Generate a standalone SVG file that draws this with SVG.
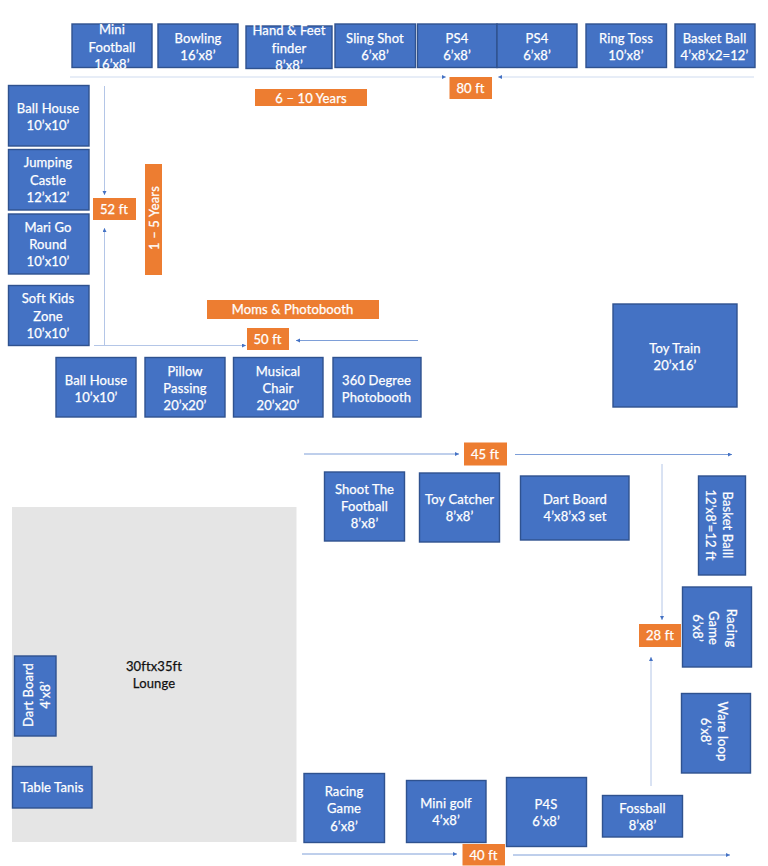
<svg xmlns="http://www.w3.org/2000/svg" width="768" height="866" viewBox="0 0 768 866">
<style>
text{font-family:"Lato","Open Sans","Liberation Sans",sans-serif;font-size:13px;text-anchor:middle;fill:#fff;stroke:#fff;stroke-width:.25;letter-spacing:.12px}
.n rect{fill:#4472C4;stroke:#2F528F;stroke-width:1.4}
.o rect{fill:#ED7D31}
.c line{stroke:#7E9FD8;stroke-width:1;marker-end:url(#a)}
.c line.p{stroke:#DFE7F5;stroke-width:1.3}
.c line.m{stroke:#B4C6E7}
text.d{fill:#111;stroke:#111}
</style>
<defs><marker id="a" markerUnits="userSpaceOnUse" markerWidth="5" markerHeight="5" refX="4" refY="2" orient="auto"><path d="M0 0L4 2L0 4Z" fill="#4472C4"/></marker></defs>
<rect width="768" height="866" fill="#fff"/>
<g id="lounge"><rect x="12" y="507" width="284.500" height="335" fill="#E5E5E5"/><text class="d" x="154" y="670.500">30ftx35ft</text><text class="d" x="154" y="688">Lounge</text></g>
<g id="connectors" class="c">
<line class="p" x1="70" y1="77" x2="446" y2="77"/>
<line class="p" x1="754" y1="77" x2="498" y2="77"/>
<line class="m" x1="104.500" y1="86" x2="104.500" y2="195"/>
<line class="m" x1="104.500" y1="345" x2="104.500" y2="228"/>
<line class="m" x1="94" y1="345.500" x2="246" y2="345.500"/>
<line x1="418" y1="340.500" x2="296" y2="340.500"/>
<line x1="304" y1="454" x2="459" y2="454"/>
<line x1="515" y1="454.500" x2="732" y2="454.500"/>
<line class="m" x1="662" y1="464" x2="662" y2="620"/>
<line class="m" x1="651" y1="786" x2="651" y2="657"/>
<line x1="302" y1="854" x2="457" y2="854"/>
<line x1="513" y1="855" x2="730" y2="855"/>
</g>
<g class="n">
<g id="mini-football"><rect x="72" y="24" width="80" height="43.500"/><text x="112" y="34">Mini</text><text x="112" y="51.500">Football</text><text x="112" y="68.500">16’x8’</text></g>
<g id="bowling"><rect x="158" y="24" width="80" height="43.500"/><text x="198" y="42.500">Bowling</text><text x="198" y="60">16’x8’</text></g>
<g id="hand-feet"><rect x="246" y="26" width="86" height="42.500"/><text x="289" y="35">Hand &amp; Feet</text><text x="289" y="52.500">finder</text><text x="289" y="70">8’x8’</text></g>
<g id="sling-shot"><rect x="335" y="24" width="80.500" height="43.500"/><text x="375" y="42.500">Sling Shot</text><text x="375" y="60">6’x8’</text></g>
<g id="ps4-1"><rect x="417.500" y="24" width="79.500" height="43.500"/><text x="457" y="42.500">PS4</text><text x="457" y="60">6’x8’</text></g>
<g id="ps4-2"><rect x="497" y="24" width="80" height="43.500"/><text x="537" y="42.500">PS4</text><text x="537" y="60">6’x8’</text></g>
<g id="ring-toss"><rect x="586" y="24" width="80.500" height="43.500"/><text x="626" y="42.500">Ring Toss</text><text x="626" y="60">10’x8’</text></g>
<g id="basket-ball-top"><rect x="675" y="24" width="80" height="43.500"/><text x="714.500" y="42.500">Basket Ball</text><text x="714.500" y="60">4’x8’x2=12’</text></g>
<g id="ball-house-1"><rect x="8.500" y="85.500" width="80.500" height="60.500"/><text x="48" y="112.500">Ball House</text><text x="48" y="130">10’x10’</text></g>
<g id="jumping-castle"><rect x="8.500" y="149.500" width="80.500" height="60.500"/><text x="48" y="167">Jumping</text><text x="48" y="185">Castle</text><text x="48" y="202">12’x12’</text></g>
<g id="mari-go-round"><rect x="8.500" y="214" width="80.500" height="60"/><text x="48" y="232">Mari Go</text><text x="48" y="249">Round</text><text x="48" y="266">10’x10’</text></g>
<g id="soft-kids"><rect x="8.500" y="285.500" width="80.500" height="60"/><text x="48" y="303">Soft Kids</text><text x="48" y="321">Zone</text><text x="48" y="338">10’x10’</text></g>
<g id="ball-house-2"><rect x="56" y="357.500" width="80" height="59.500"/><text x="96" y="384.500">Ball House</text><text x="96" y="401.500">10’x10’</text></g>
<g id="pillow-passing"><rect x="145" y="357.500" width="80" height="59.500"/><text x="185" y="375.500">Pillow</text><text x="185" y="393">Passing</text><text x="185" y="410">20’x20’</text></g>
<g id="musical-chair"><rect x="233.500" y="357.500" width="89.500" height="59.500"/><text x="278" y="375.500">Musical</text><text x="278" y="393">Chair</text><text x="278" y="410">20’x20’</text></g>
<g id="photobooth-360"><rect x="333" y="357.500" width="88" height="59.500"/><text x="376.500" y="384.500">360 Degree</text><text x="376.500" y="401.500">Photobooth</text></g>
<g id="toy-train"><rect x="613" y="304" width="124" height="103"/><text x="675" y="352.500">Toy Train</text><text x="675" y="369.500">20’x16’</text></g>
<g id="shoot-football"><rect x="324.500" y="472" width="80" height="69"/><text x="364.500" y="493.500">Shoot The</text><text x="364.500" y="511">Football</text><text x="364.500" y="528">8’x8’</text></g>
<g id="toy-catcher"><rect x="419.500" y="473" width="80" height="69"/><text x="459.500" y="504">Toy Catcher</text><text x="459.500" y="521">8’x8’</text></g>
<g id="dart-board-set"><rect x="520.500" y="476" width="108.500" height="64"/><text x="575" y="504">Dart Board</text><text x="575" y="521">4’x8’x3 set</text></g>
<g id="basket-balll"><rect x="698.500" y="476" width="47" height="99"/><text transform="translate(723 525) rotate(90)">Basket Balll</text><text transform="translate(706 525) rotate(90)">12’x8’=12 ft</text></g>
<g id="racing-game-side"><rect x="682.500" y="587" width="69" height="80"/><text transform="translate(726.500 628) rotate(90)">Racing</text><text transform="translate(709 628) rotate(90)">Game</text><text transform="translate(692.500 628) rotate(90)">6’x8’</text></g>
<g id="ware-loop"><rect x="681.500" y="693.500" width="69" height="79.500"/><text transform="translate(717.500 731.500) rotate(90)">Ware loop</text><text transform="translate(700.500 731.500) rotate(90)">6’x8’</text></g>
<g id="racing-game"><rect x="304" y="773.500" width="80.500" height="69"/><text x="344" y="795.500">Racing</text><text x="344" y="813">Game</text><text x="344" y="830.500">6’x8’</text></g>
<g id="mini-golf"><rect x="406.500" y="780.500" width="79.500" height="62"/><text x="446" y="807.500">Mini golf</text><text x="446" y="825">4’x8’</text></g>
<g id="p4s"><rect x="506.500" y="777.500" width="80" height="69"/><text x="546" y="808.500">P4S</text><text x="546" y="826">6’x8’</text></g>
<g id="fossball"><rect x="602.500" y="795.500" width="80" height="41.500"/><text x="642.500" y="813">Fossball</text><text x="642.500" y="830">8’x8’</text></g>
<g id="dart-board"><rect x="14.500" y="656" width="41.500" height="80"/><text transform="translate(33 695) rotate(-90)">Dart Board</text><text transform="translate(49.500 695) rotate(-90)">4’x8’</text></g>
<g id="table-tanis"><rect x="12.500" y="766.500" width="79.500" height="41.500"/><text x="52" y="792">Table Tanis</text></g>
</g>
<g class="o">
<g id="label-80"><rect x="449.500" y="77" width="42.500" height="22"/><text x="470.500" y="93">80 ft</text></g>
<g id="label-6-10"><rect x="255" y="89" width="112" height="17"/><text x="311" y="102.500">6 – 10 Years</text></g>
<g id="label-52"><rect x="93" y="198" width="43" height="22"/><text x="114" y="214">52 ft</text></g>
<g id="label-1-5"><rect x="145" y="164" width="17" height="111"/><text transform="translate(159 218) rotate(-90)">1 – 5 Years</text></g>
<g id="label-moms"><rect x="207" y="300" width="172" height="19"/><text x="292.500" y="314">Moms &amp; Photobooth</text></g>
<g id="label-50"><rect x="247" y="328" width="42" height="22"/><text x="267.500" y="344">50 ft</text></g>
<g id="label-45"><rect x="464" y="442.500" width="43" height="23"/><text x="485" y="459">45 ft</text></g>
<g id="label-28"><rect x="639" y="624" width="42" height="23"/><text x="660" y="640">28 ft</text></g>
<g id="label-40"><rect x="462.500" y="844" width="42.500" height="21.500"/><text x="483.500" y="860">40 ft</text></g>
</g>
</svg>
